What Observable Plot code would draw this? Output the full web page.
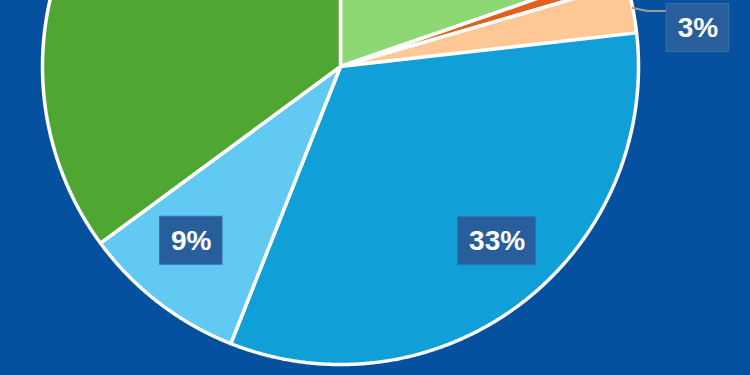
<!DOCTYPE html>
<html>
<head>
<meta charset="utf-8">
<script src="https://cdn.jsdelivr.net/npm/d3@7"></script>
<script src="https://cdn.jsdelivr.net/npm/@observablehq/plot@0.6"></script>
<style>
html, body { margin: 0; padding: 0; background: #0551a0; overflow: hidden; }
#chart svg { display: block; }
</style>
</head>
<body>
<div id="chart"></div>
<script>
// ---- data ----
const categories = ["Light green", "Orange", "Peach", "Blue", "Light blue", "Dark green"];
const values = [19.7, 0.8, 2.7, 32.8, 8.9, 35.1];
const palette = ["#8ed873", "#e2601d", "#fec896", "#119fd8", "#62c9f2", "#4fa632"];

// ---- layout ----
const W = 750, H = 375;
const CX = 340, CY = 66;      // pie centre in pixels
const R = 298;                 // pie radius
const RX = 251, RY = 220;      // inner label placement radii
const LDX = 4;                 // small horizontal shift of inner labels
const FS = 28;                 // label font size
const BOX_H = 48, PAD = 11;

const rows = categories.map((c, i) => ({category: c, value: values[i]}));
const arcs = d3.pie().sort(null).value(d => d.value).startAngle(0).endAngle(2 * Math.PI)(rows);

// slice outlines (angle clockwise from 12 o'clock, y downward)
const slicePts = [];
for (const a of arcs) {
  const c = a.data.category;
  slicePts.push({category: c, x: 0, y: 0});
  const n = Math.max(2, Math.ceil((a.endAngle - a.startAngle) / (Math.PI / 720)));
  for (let k = 0; k <= n; k++) {
    const t = a.startAngle + (a.endAngle - a.startAngle) * k / n;
    slicePts.push({category: c, x: R * Math.sin(t), y: -R * Math.cos(t)});
  }
}

const textWidth = s => [...s].reduce((w, ch) => w + (ch === "%" ? 0.889 : 0.556) * FS, 0);

// labels
let labels = [];
let leaders = [];
const outer = [];
for (const a of arcs) {
  const text = Math.round(a.data.value) + "%";
  const mid = (a.startAngle + a.endAngle) / 2;
  const w = textWidth(text) + 2 * PAD;
  if (a.data.value >= 5) {
    labels.push({text, x: RX * Math.sin(mid) + LDX, y: -RY * Math.cos(mid), w});
  } else {
    outer.push({text, mid, w, sx: R * Math.sin(mid), sy: -R * Math.cos(mid)});
  }
}
// outer labels: to the right, stacked upward to avoid overlaps
outer.sort((p, q) => q.mid - p.mid);
let lastY = Infinity;
const boxLeft = d3.max(outer, o => o.sx) + 34;
for (const o of outer) {
  let yc = o.sy + 20;
  if (yc > lastY - (BOX_H + 4)) yc = lastY - (BOX_H + 4);
  lastY = yc;
  labels.push({text: o.text, x: boxLeft + o.w / 2, y: yc, w: o.w});
  const ly = yc - 17;
  leaders.push({id: o.text, x: o.sx, y: o.sy});
  leaders.push({id: o.text, x: boxLeft - 19, y: ly});
  leaders.push({id: o.text, x: boxLeft, y: ly});
}
// labels whose box lies fully outside the visible frame are not drawn
const visible = d => d.y + BOX_H / 2 > -CY && d.y - BOX_H / 2 < H - CY;
const hidden = new Set(labels.filter(d => !visible(d)).map(d => d.text));
labels = labels.filter(visible);
leaders = leaders.filter(p => !hidden.has(p.id));

const chart = Plot.plot({
  width: W,
  height: H,
  margin: 0,
  x: {domain: [-CX, W - CX], range: [0, W], axis: null},
  y: {domain: [-CY, H - CY], range: [0, H], axis: null},
  color: {domain: categories, range: palette},
  style: {background: "#0551a0"},
  marks: [
    Plot.line(slicePts, {
      x: "x", y: "y", z: "category", fill: "category",
      stroke: "white", strokeWidth: 3.5, strokeLinejoin: "miter", curve: "linear-closed"
    }),
    Plot.line(leaders, {x: "x", y: "y", z: "id", stroke: "#a39e94", strokeWidth: 2, curve: "linear"}),
    Plot.rect(labels, {
      x1: d => d.x - d.w / 2, x2: d => d.x + d.w / 2,
      y1: d => d.y - BOX_H / 2, y2: d => d.y + BOX_H / 2,
      fill: "#285e9c", stroke: "#3b71ac", strokeWidth: 1
    }),
    Plot.text(labels, {
      x: "x", y: "y", text: "text", fill: "white",
      fontSize: FS, fontWeight: "bold",
      fontFamily: "'Liberation Sans', Arial, Helvetica, sans-serif"
    })
  ]
});
document.getElementById("chart").append(chart);
</script>
</body>
</html>
